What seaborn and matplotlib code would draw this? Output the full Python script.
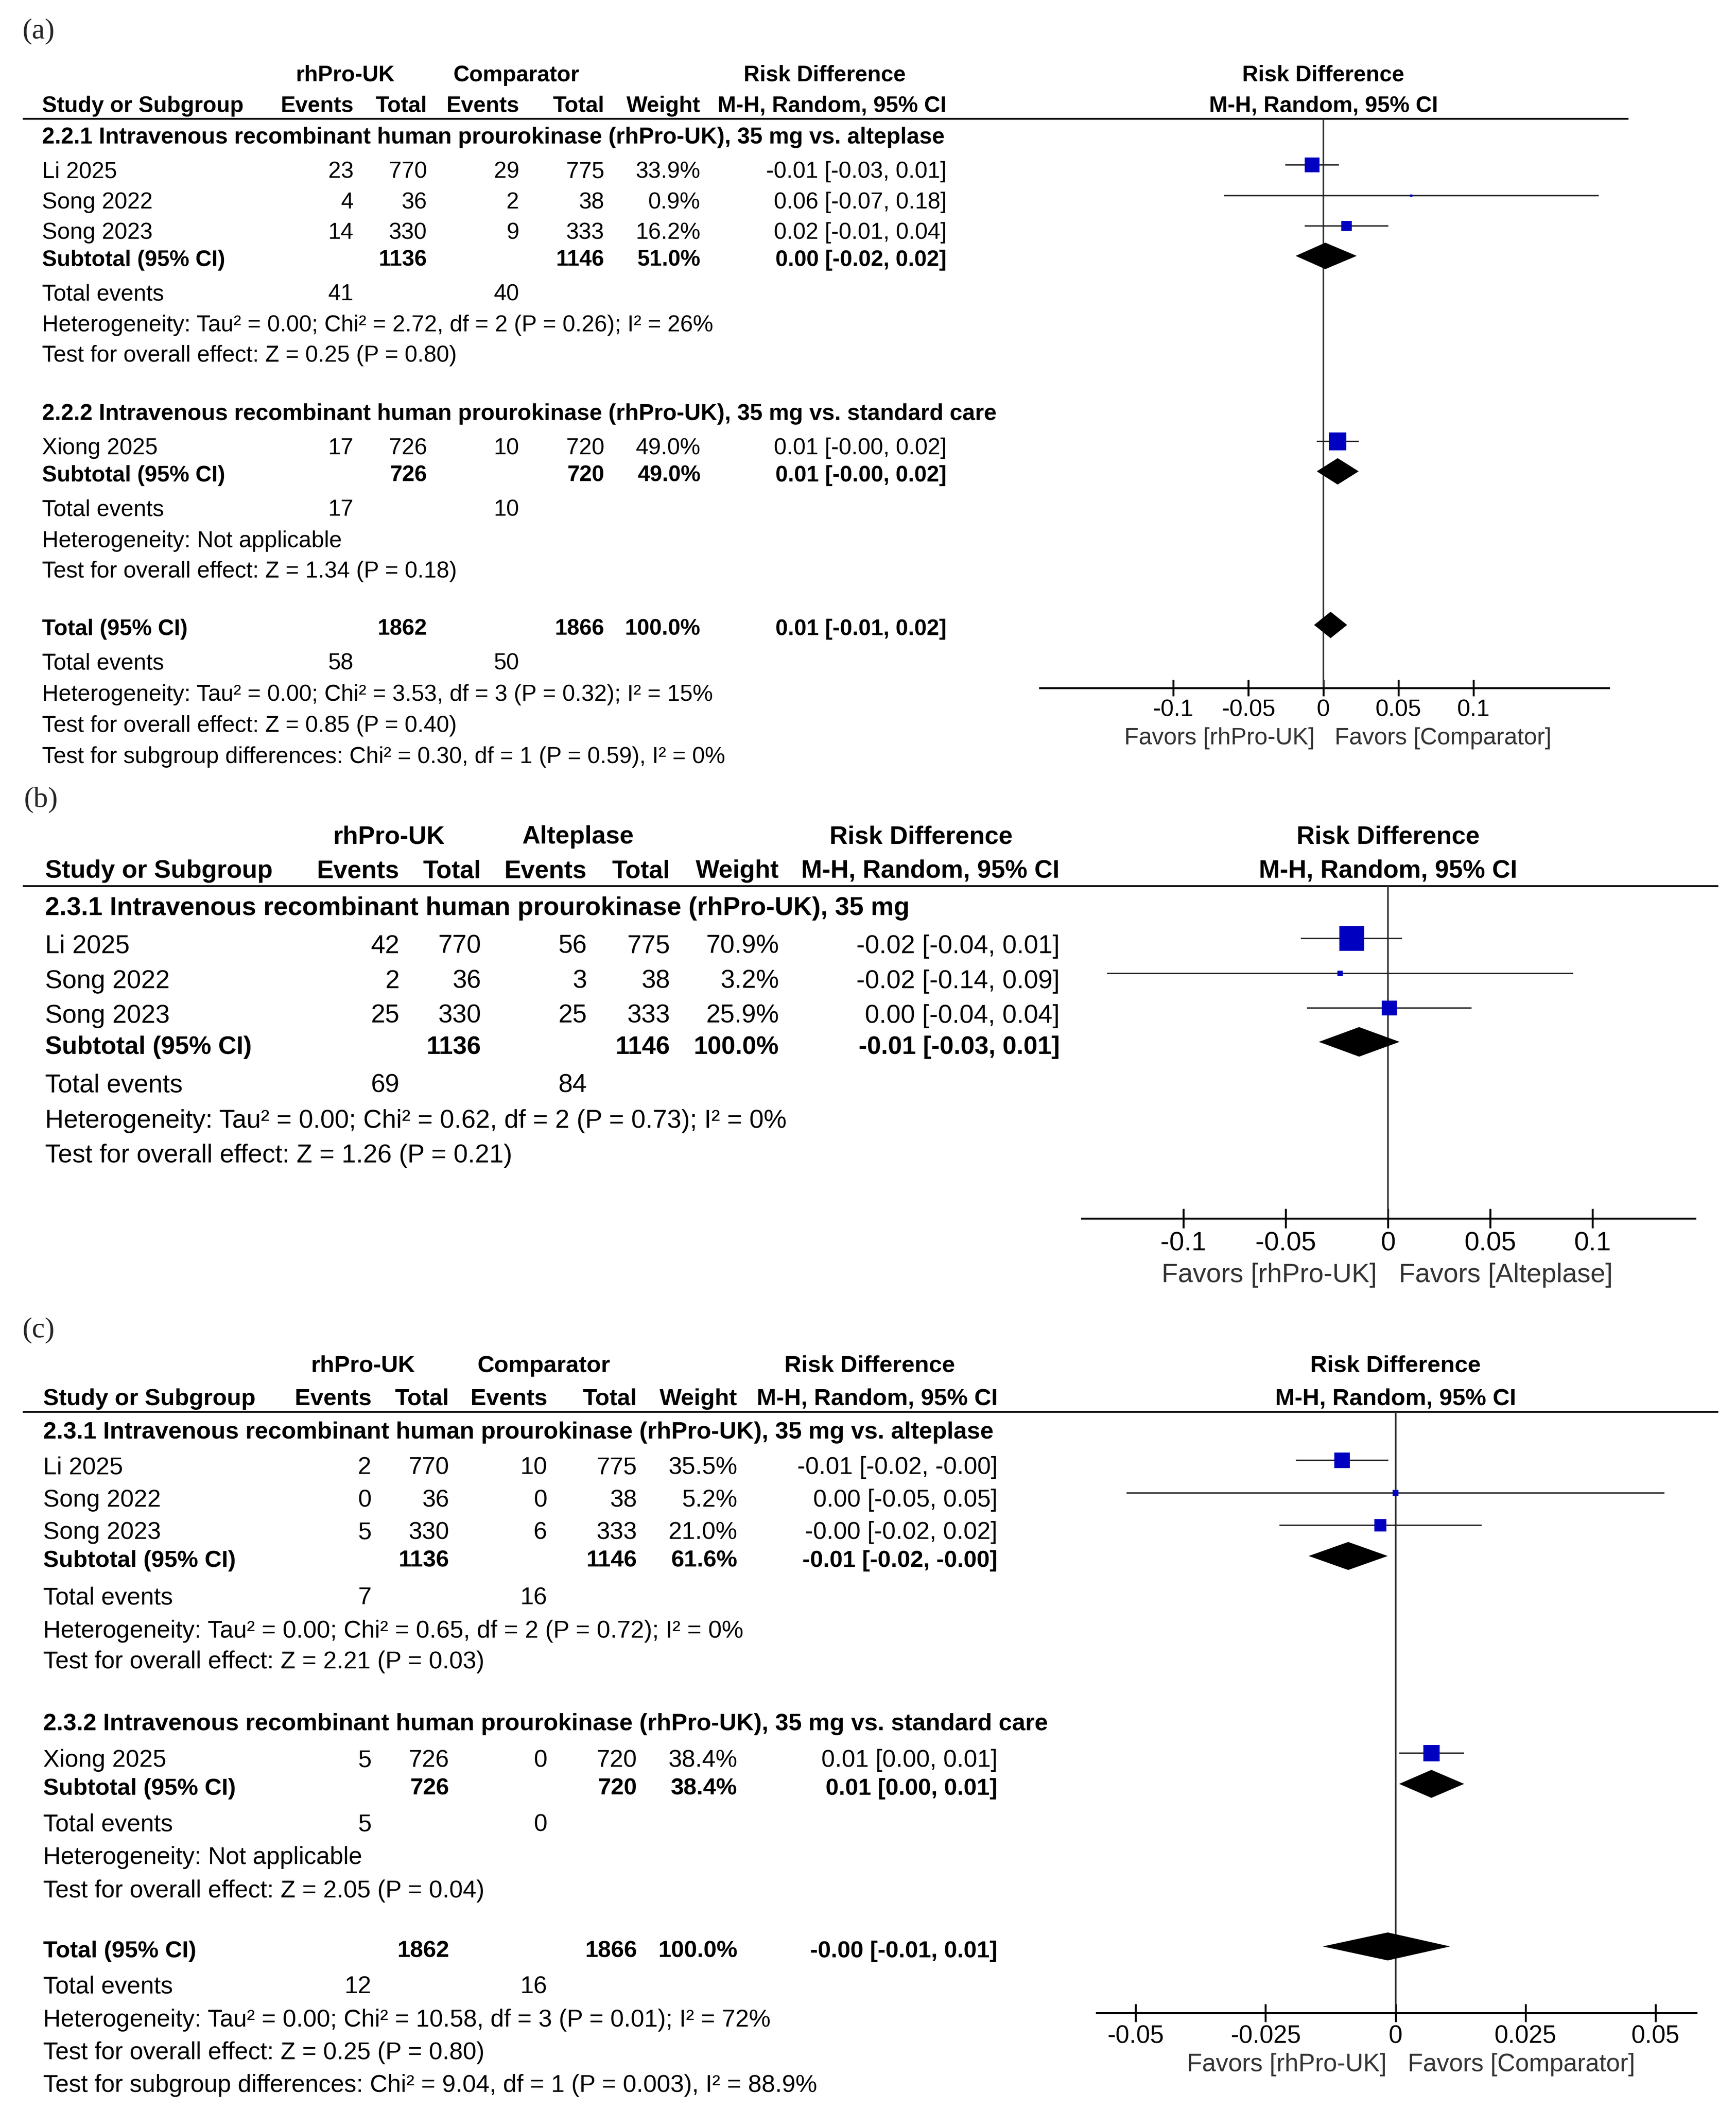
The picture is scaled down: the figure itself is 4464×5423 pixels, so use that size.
import numpy as np
import matplotlib
matplotlib.use("Agg")
import matplotlib.pyplot as plt
import seaborn as sns

# ---------------- data: panel (a) ----------------
A_LETTER = "(a)"
A_GROUP_HDR = ["rhPro-UK", "Comparator", "Risk Difference"]
A_STUDY = ["Li 2025", "Song 2022", "Song 2023", "Xiong 2025"]
A_EV_T = [23, 4, 14, 17]
A_N_T = [770, 36, 330, 726]
A_EV_C = [29, 2, 9, 10]
A_N_C = [775, 38, 333, 720]
A_W = [33.9, 0.9, 16.2, 49.0]
A_CI_TXT = ["-0.01 [-0.03, 0.01]", "0.06 [-0.07, 0.18]", "0.02 [-0.01, 0.04]", "0.01 [-0.00, 0.02]"]
A_RD = [-0.0076, 0.0585, 0.0154, 0.0095]
A_LO = [-0.0255, -0.0663, -0.0125, -0.0044]
A_HI = [0.0104, 0.1834, 0.0433, 0.0235]
A_SUB_HEAD = ["2.2.1 Intravenous recombinant human prourokinase (rhPro-UK), 35 mg vs. alteplase",
              "2.2.2 Intravenous recombinant human prourokinase (rhPro-UK), 35 mg vs. standard care"]
A_SUB_N_T = [1136, 726]
A_SUB_N_C = [1146, 720]
A_SUB_W = ["51.0%", "49.0%"]
A_SUB_CI_TXT = ["0.00 [-0.02, 0.02]", "0.01 [-0.00, 0.02]"]
A_SUB_RD = [0.0013, 0.0095]
A_SUB_LO = [-0.0185, -0.0044]
A_SUB_HI = [0.0222, 0.0235]
A_SUB_EV_T = [41, 17]
A_SUB_EV_C = [40, 10]
A_SUB_HET = ["Heterogeneity: Tau\u00b2 = 0.00; Chi\u00b2 = 2.72, df = 2 (P = 0.26); I\u00b2 = 26%",
             "Heterogeneity: Not applicable"]
A_SUB_Z = ["Test for overall effect: Z = 0.25 (P = 0.80)",
           "Test for overall effect: Z = 1.34 (P = 0.18)"]
A_TOT_N = [1862, 1866]
A_TOT_W = "100.0%"
A_TOT_CI_TXT = "0.01 [-0.01, 0.02]"
A_TOT_RD, A_TOT_LO, A_TOT_HI = 0.0048, -0.0062, 0.0158
A_TOT_EV = [58, 50]
A_TOT_HET = "Heterogeneity: Tau\u00b2 = 0.00; Chi\u00b2 = 3.53, df = 3 (P = 0.32); I\u00b2 = 15%"
A_TOT_Z = "Test for overall effect: Z = 0.85 (P = 0.40)"
A_TOT_DIFF = "Test for subgroup differences: Chi\u00b2 = 0.30, df = 1 (P = 0.59), I\u00b2 = 0%"
A_TICKS = [-0.1, -0.05, 0, 0.05, 0.1]
A_TICKLAB = ["-0.1", "-0.05", "0", "0.05", "0.1"]
A_FAVORS = ["Favors [rhPro-UK]", "Favors [Comparator]"]

# ---------------- data: panel (b) ----------------
B_LETTER = "(b)"
B_GROUP_HDR = ["rhPro-UK", "Alteplase", "Risk Difference"]
B_STUDY = ["Li 2025", "Song 2022", "Song 2023"]
B_EV_T = [42, 2, 25]
B_N_T = [770, 36, 330]
B_EV_C = [56, 3, 25]
B_N_C = [775, 38, 333]
B_W = [70.9, 3.2, 25.9]
B_CI_TXT = ["-0.02 [-0.04, 0.01]", "-0.02 [-0.14, 0.09]", "0.00 [-0.04, 0.04]"]
B_RD = [-0.0177, -0.0234, 0.0007]
B_LO = [-0.0425, -0.1372, -0.0395]
B_HI = [0.0069, 0.0904, 0.0409]
B_SUB_HEAD = ["2.3.1 Intravenous recombinant human prourokinase (rhPro-UK), 35 mg"]
B_SUB_N_T = [1136]
B_SUB_N_C = [1146]
B_SUB_W = ["100.0%"]
B_SUB_CI_TXT = ["-0.01 [-0.03, 0.01]"]
B_SUB_RD = [-0.0141]
B_SUB_LO = [-0.0338]
B_SUB_HI = [0.0057]
B_SUB_EV_T = [69]
B_SUB_EV_C = [84]
B_SUB_HET = ["Heterogeneity: Tau\u00b2 = 0.00; Chi\u00b2 = 0.62, df = 2 (P = 0.73); I\u00b2 = 0%"]
B_SUB_Z = ["Test for overall effect: Z = 1.26 (P = 0.21)"]
B_TICKS = [-0.1, -0.05, 0, 0.05, 0.1]
B_TICKLAB = ["-0.1", "-0.05", "0", "0.05", "0.1"]
B_FAVORS = ["Favors [rhPro-UK]", "Favors [Alteplase]"]

# ---------------- data: panel (c) ----------------
C_LETTER = "(c)"
C_GROUP_HDR = ["rhPro-UK", "Comparator", "Risk Difference"]
C_STUDY = ["Li 2025", "Song 2022", "Song 2023", "Xiong 2025"]
C_EV_T = [2, 0, 5, 5]
C_N_T = [770, 36, 330, 726]
C_EV_C = [10, 0, 6, 0]
C_N_C = [775, 38, 333, 720]
C_W = [35.5, 5.2, 21.0, 38.4]
C_CI_TXT = ["-0.01 [-0.02, -0.00]", "0.00 [-0.05, 0.05]", "-0.00 [-0.02, 0.02]", "0.01 [0.00, 0.01]"]
C_RD = [-0.0103, 0.0, -0.0029, 0.0069]
C_LO = [-0.0192, -0.0517, -0.0223, 0.0007]
C_HI = [-0.0014, 0.0517, 0.0166, 0.0132]
C_SUB_HEAD = ["2.3.1 Intravenous recombinant human prourokinase (rhPro-UK), 35 mg vs. alteplase",
              "2.3.2 Intravenous recombinant human prourokinase (rhPro-UK), 35 mg vs. standard care"]
C_SUB_N_T = [1136, 726]
C_SUB_N_C = [1146, 720]
C_SUB_W = ["61.6%", "38.4%"]
C_SUB_CI_TXT = ["-0.01 [-0.02, -0.00]", "0.01 [0.00, 0.01]"]
C_SUB_RD = [-0.0091, 0.0069]
C_SUB_LO = [-0.0167, 0.0007]
C_SUB_HI = [-0.0015, 0.0132]
C_SUB_EV_T = [7, 5]
C_SUB_EV_C = [16, 0]
C_SUB_HET = ["Heterogeneity: Tau\u00b2 = 0.00; Chi\u00b2 = 0.65, df = 2 (P = 0.72); I\u00b2 = 0%",
             "Heterogeneity: Not applicable"]
C_SUB_Z = ["Test for overall effect: Z = 2.21 (P = 0.03)",
           "Test for overall effect: Z = 2.05 (P = 0.04)"]
C_TOT_N = [1862, 1866]
C_TOT_W = "100.0%"
C_TOT_CI_TXT = "-0.00 [-0.01, 0.01]"
C_TOT_RD, C_TOT_LO, C_TOT_HI = -0.0015, -0.0140, 0.0105
C_TOT_EV = [12, 16]
C_TOT_HET = "Heterogeneity: Tau\u00b2 = 0.00; Chi\u00b2 = 10.58, df = 3 (P = 0.01); I\u00b2 = 72%"
C_TOT_Z = "Test for overall effect: Z = 0.25 (P = 0.80)"
C_TOT_DIFF = "Test for subgroup differences: Chi\u00b2 = 9.04, df = 1 (P = 0.003), I\u00b2 = 88.9%"
C_TICKS = [-0.05, -0.025, 0, 0.025, 0.05]
C_TICKLAB = ["-0.05", "-0.025", "0", "0.025", "0.05"]
C_FAVORS = ["Favors [rhPro-UK]", "Favors [Comparator]"]

# ---------------- page setup ----------------
W_PX, H_PX, DPI = 4464, 5424, 300
sns.set_theme(style="white")
plt.rcParams["font.family"] = ["Liberation Sans", "DejaVu Sans"]

fig = plt.figure(figsize=(W_PX / DPI, H_PX / DPI), dpi=DPI, facecolor="white")
page = fig.add_axes([0, 0, 1, 1])
page.set_xlim(0, W_PX)
page.set_ylim(H_PX, 0)
page.axis("off")


def em(fs):
    return fs * DPI / 72.0


def put(x, y, s, fs, ha="left", bold=False, color="black"):
    # y is the vertical centre of the capitals, in page pixels
    page.text(x, y + 0.36 * em(fs), s, fontsize=fs, ha=ha, va="baseline",
              fontweight="bold" if bold else "normal", color=color)


def draw_panel(d, lay):
    fs = lay["fs"]
    bfs = fs * lay["bold_scale"]
    cols = lay["cols"]
    ax_lay = lay["axis"]
    zero = ax_lay["zero"]

    # panel letter
    lx, ly = lay["letter"]
    page.text(lx, ly + 0.255 * em(18), d["letter"], fontsize=18, ha="left", va="baseline",
              family=["Liberation Serif", "DejaVu Serif"])

    # column headers
    for txt, x in zip(d["grp_hdr"], lay["grp_hdr_x"]):
        put(x, lay["hdr1_y"], txt, bfs, ha="center", bold=True)
    put(lay["x_left"], lay["hdr2_y"], "Study or Subgroup", bfs, bold=True)
    for txt, x in zip(["Events", "Total", "Events", "Total", "Weight", "M-H, Random, 95% CI"], cols):
        put(x, lay["hdr2_y"], txt, bfs, ha="right", bold=True)
    put(zero, lay["hdr1_y"], "Risk Difference", bfs, ha="center", bold=True)
    put(zero, lay["hdr2_y"], "M-H, Random, 95% CI", bfs, ha="center", bold=True)
    page.plot(lay["rule_x"], [lay["rule_y"]] * 2, color="black", lw=1.1, solid_capstyle="butt")

    # study rows
    for i, name in enumerate(d["study"]):
        y = lay["study_y"][i]
        put(lay["x_left"], y, name, fs)
        vals = [d["ev_t"][i], d["n_t"][i], d["ev_c"][i], d["n_c"][i], f"{d['w'][i]:.1f}%", d["ci_txt"][i]]
        for v, x in zip(vals, cols):
            put(x, y, str(v), fs, ha="right")

    # subgroup blocks
    for g, gl in enumerate(lay["groups"]):
        put(lay["x_left"], gl["head"], d["sub_head"][g], lay["head_fs"], bold=True)
        put(lay["x_left"], gl["sub"], "Subtotal (95% CI)", bfs, bold=True)
        for v, x in zip([d["sub_n_t"][g], d["sub_n_c"][g], d["sub_w"][g], d["sub_ci_txt"][g]],
                        [cols[1], cols[3], cols[4], cols[5]]):
            put(x, gl["sub"], str(v), bfs, ha="right", bold=True)
        put(lay["x_left"], gl["ev"], "Total events", fs)
        put(cols[0], gl["ev"], str(d["sub_ev_t"][g]), fs, ha="right")
        put(cols[2], gl["ev"], str(d["sub_ev_c"][g]), fs, ha="right")
        put(lay["x_left"], gl["het"], d["sub_het"][g], fs)
        put(lay["x_left"], gl["z"], d["sub_z"][g], fs)

    # overall block
    tl = lay.get("total")
    if tl is not None:
        put(lay["x_left"], tl["row"], "Total (95% CI)", bfs, bold=True)
        for v, x in zip([d["tot_n"][0], d["tot_n"][1], d["tot_w"], d["tot_ci_txt"]],
                        [cols[1], cols[3], cols[4], cols[5]]):
            put(x, tl["row"], str(v), bfs, ha="right", bold=True)
        put(lay["x_left"], tl["ev"], "Total events", fs)
        put(cols[0], tl["ev"], str(d["tot_ev"][0]), fs, ha="right")
        put(cols[2], tl["ev"], str(d["tot_ev"][1]), fs, ha="right")
        put(lay["x_left"], tl["het"], d["tot_het"], fs)
        put(lay["x_left"], tl["z"], d["tot_z"], fs)
        put(lay["x_left"], tl["diff"], d["tot_diff"], fs)

    # forest plot axes, y in page pixels, x in risk-difference units
    x0, x1, y_top, y_bot = ax_lay["x0"], ax_lay["x1"], lay["rule_y"], ax_lay["y_bot"]
    ax = fig.add_axes([x0 / W_PX, 1 - y_bot / H_PX, (x1 - x0) / W_PX, (y_bot - y_top) / H_PX])
    ax.patch.set_alpha(0)

    ys = np.array(lay["study_y"], dtype=float) + lay["mark_dy"]
    ax.hlines(ys, d["lo"], d["hi"], color="#222222", lw=0.85, zorder=2)
    sizes = (lay["k"] * np.sqrt(np.array(d["w"])) * 72.0 / DPI) ** 2
    sns.scatterplot(x=d["rd"], y=ys, s=sizes, marker="s", color="#0000C0",
                    edgecolor="none", linewidth=0, legend=False, ax=ax, zorder=3)

    dia = [(d["sub_lo"][g], d["sub_rd"][g], d["sub_hi"][g], gl["sub"]) for g, gl in enumerate(lay["groups"])]
    if tl is not None:
        dia.append((d["tot_lo"], d["tot_rd"], d["tot_hi"], tl["row"]))
    h = lay["dia_h"]
    for lo, est, hi, yr in dia:
        yc = yr + lay["dia_dy"]
        ax.fill([lo, est, hi, est], [yc, yc - h, yc, yc + h], color="black", lw=0, zorder=3)

    ax.axvline(0, color="#333333", lw=1.0, zorder=1)
    ppu = ax_lay["ppu"]
    ax.set_xlim((x0 - zero) / ppu, (x1 - zero) / ppu)
    ax.set_ylim(y_bot, y_top)
    for sp in ["top", "left", "right"]:
        ax.spines[sp].set_visible(False)
    ax.spines["bottom"].set_color("black")
    ax.spines["bottom"].set_linewidth(1.2)
    ax.set_yticks([])
    ax.set_xticks(d["ticks"])
    ax.set_xticklabels(d["ticklab"], fontsize=lay["tick_fs"], color="black")
    ax.tick_params(axis="x", bottom=True, direction="inout", length=lay["tick_len"],
                   width=1.2, color="black", pad=1.5)
    ax.set_xlabel("")
    ax.set_ylabel("")

    put(lay["fav_l"], lay["fav_y"], d["favors"][0], lay["tick_fs"], ha="right", color="#333333")
    put(lay["fav_r"], lay["fav_y"], d["favors"][1], lay["tick_fs"], ha="left", color="#333333")


panel_a = dict(letter=A_LETTER, grp_hdr=A_GROUP_HDR, study=A_STUDY, ev_t=A_EV_T, n_t=A_N_T,
               ev_c=A_EV_C, n_c=A_N_C, w=A_W, ci_txt=A_CI_TXT, rd=A_RD, lo=A_LO, hi=A_HI,
               sub_head=A_SUB_HEAD, sub_n_t=A_SUB_N_T, sub_n_c=A_SUB_N_C, sub_w=A_SUB_W,
               sub_ci_txt=A_SUB_CI_TXT, sub_rd=A_SUB_RD, sub_lo=A_SUB_LO, sub_hi=A_SUB_HI,
               sub_ev_t=A_SUB_EV_T, sub_ev_c=A_SUB_EV_C, sub_het=A_SUB_HET, sub_z=A_SUB_Z,
               tot_n=A_TOT_N, tot_w=A_TOT_W, tot_ci_txt=A_TOT_CI_TXT, tot_rd=A_TOT_RD,
               tot_lo=A_TOT_LO, tot_hi=A_TOT_HI, tot_ev=A_TOT_EV, tot_het=A_TOT_HET,
               tot_z=A_TOT_Z, tot_diff=A_TOT_DIFF, ticks=A_TICKS, ticklab=A_TICKLAB,
               favors=A_FAVORS)
panel_b = dict(letter=B_LETTER, grp_hdr=B_GROUP_HDR, study=B_STUDY, ev_t=B_EV_T, n_t=B_N_T,
               ev_c=B_EV_C, n_c=B_N_C, w=B_W, ci_txt=B_CI_TXT, rd=B_RD, lo=B_LO, hi=B_HI,
               sub_head=B_SUB_HEAD, sub_n_t=B_SUB_N_T, sub_n_c=B_SUB_N_C, sub_w=B_SUB_W,
               sub_ci_txt=B_SUB_CI_TXT, sub_rd=B_SUB_RD, sub_lo=B_SUB_LO, sub_hi=B_SUB_HI,
               sub_ev_t=B_SUB_EV_T, sub_ev_c=B_SUB_EV_C, sub_het=B_SUB_HET, sub_z=B_SUB_Z,
               ticks=B_TICKS, ticklab=B_TICKLAB, favors=B_FAVORS)
panel_c = dict(letter=C_LETTER, grp_hdr=C_GROUP_HDR, study=C_STUDY, ev_t=C_EV_T, n_t=C_N_T,
               ev_c=C_EV_C, n_c=C_N_C, w=C_W, ci_txt=C_CI_TXT, rd=C_RD, lo=C_LO, hi=C_HI,
               sub_head=C_SUB_HEAD, sub_n_t=C_SUB_N_T, sub_n_c=C_SUB_N_C, sub_w=C_SUB_W,
               sub_ci_txt=C_SUB_CI_TXT, sub_rd=C_SUB_RD, sub_lo=C_SUB_LO, sub_hi=C_SUB_HI,
               sub_ev_t=C_SUB_EV_T, sub_ev_c=C_SUB_EV_C, sub_het=C_SUB_HET, sub_z=C_SUB_Z,
               tot_n=C_TOT_N, tot_w=C_TOT_W, tot_ci_txt=C_TOT_CI_TXT, tot_rd=C_TOT_RD,
               tot_lo=C_TOT_LO, tot_hi=C_TOT_HI, tot_ev=C_TOT_EV, tot_het=C_TOT_HET,
               tot_z=C_TOT_Z, tot_diff=C_TOT_DIFF, ticks=C_TICKS, ticklab=C_TICKLAB,
               favors=C_FAVORS)

# ---------------- layout (page pixels) ----------------
LAY_A = dict(fs=14.1, bold_scale=0.975, head_fs=14.05, tick_fs=14.6, letter=(58, 80), x_left=108,
             hdr1_y=188, hdr2_y=267, grp_hdr_x=[887, 1328, 2121],
             cols=[909, 1098, 1335, 1554, 1801, 2434],
             rule_y=306, rule_x=[58, 4187],
             study_y=[436, 515, 593, 1147],
             groups=[dict(head=348, sub=663, ev=751, het=831, z=909),
                     dict(head=1059, sub=1217, ev=1305, het=1386, z=1464)],
             total=dict(row=1612, ev=1700, het=1781, z=1861, diff=1941),
             axis=dict(x0=2674, x1=4137, y_bot=1770, zero=3403, ppu=3860),
             tick_len=10, fav_y=1892, fav_l=3381, fav_r=3432,
             mark_dy=-11, dia_dy=-4, dia_h=34, k=6.5)
LAY_B = dict(fs=15.9, bold_scale=0.975, head_fs=15.95, tick_fs=16.5, letter=(62, 2055), x_left=116,
             hdr1_y=2146, hdr2_y=2234, grp_hdr_x=[1000, 1486, 2368],
             cols=[1027, 1237, 1509, 1723, 2003, 2725],
             rule_y=2279, rule_x=[58, 4418],
             study_y=[2427, 2517, 2606],
             groups=[dict(head=2329, sub=2687, ev=2785, het=2876, z=2965)],
             total=None,
             axis=dict(x0=2782, x1=4359, y_bot=3134, zero=3569, ppu=5260),
             tick_len=12, fav_y=3272, fav_l=3541, fav_r=3597,
             mark_dy=-13, dia_dy=-7, dia_h=38, k=7.6)
LAY_C = dict(fs=15.0, bold_scale=0.965, head_fs=14.8, tick_fs=15.3, letter=(58, 3420), x_left=111,
             hdr1_y=3506, hdr2_y=3591, grp_hdr_x=[934, 1398, 2236],
             cols=[955, 1155, 1407, 1638, 1896, 2565],
             rule_y=3631, rule_x=[58, 4418],
             study_y=[3768, 3852, 3935, 4521],
             groups=[dict(head=3677, sub=4007, ev=4103, het=4189, z=4268),
                     dict(head=4427, sub=4593, ev=4686, het=4771, z=4857)],
             total=dict(row=5011, ev=5103, het=5189, z=5273, diff=5357),
             axis=dict(x0=2820, x1=4362, y_bot=5177, zero=3588.5, ppu=13370),
             tick_len=11, fav_y=5303, fav_l=3566, fav_r=3620,
             mark_dy=-12, dia_dy=-5, dia_h=36, k=6.8)

draw_panel(panel_a, LAY_A)
draw_panel(panel_b, LAY_B)
draw_panel(panel_c, LAY_C)

fig.savefig("out.png", dpi=DPI, facecolor="white")
